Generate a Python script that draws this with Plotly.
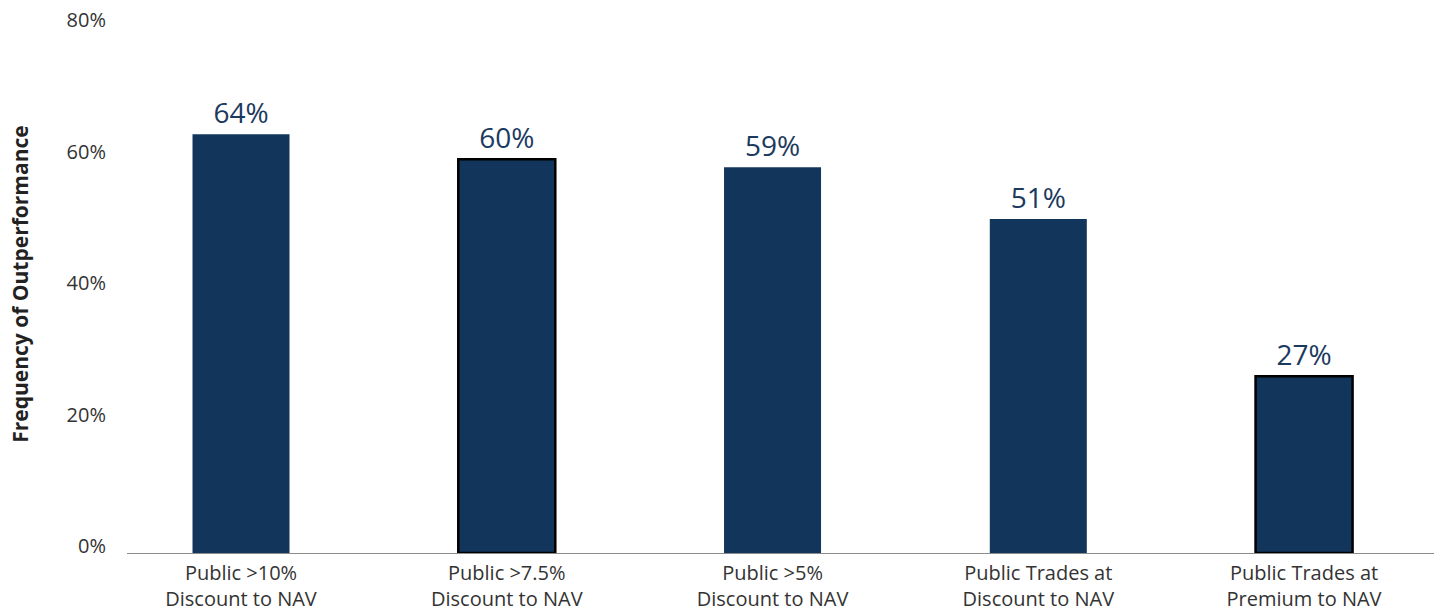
import plotly.graph_objects as go

categories = ["Public >10%<br>Discount to NAV", "Public >7.5%<br>Discount to NAV",
              "Public >5%<br>Discount to NAV", "Public Trades at<br>Discount to NAV",
              "Public Trades at<br>Premium to NAV"]
values = [63.7, 59.9, 58.7, 50.8, 26.9]
outline_widths = [0, 2.5, 0, 0, 2.5]
y_ticks = [0, 20, 40, 60, 80]
y_tick_labels = ["0%", "20%", "40%", "60%", "80%"]

BAR = "#12355b"
FONT = "Open Sans"

fig = go.Figure(go.Bar(
    x=list(range(len(categories))),
    y=values,
    width=0.365,
    marker=dict(color=BAR, line=dict(color="#000000", width=outline_widths)),
    texttemplate="%{y:.0f}%",
    textposition="outside",
    textfont=dict(family=FONT, size=28, color="#1b3a5e"),
    cliponaxis=False,
    hoverinfo="skip",
))

fig.update_layout(
    width=1434, height=605,
    margin=dict(l=119, r=0, t=19, b=60),
    plot_bgcolor="white", paper_bgcolor="white",
    showlegend=False,
    font=dict(family=FONT, color="#333333"),
    xaxis=dict(
        range=[-0.429, 4.519],
        tickmode="array", tickvals=list(range(len(categories))), ticktext=categories,
        tickfont=dict(family=FONT, size=20, color="#333333"),
        ticklabelstandoff=2, automargin=False,
        showline=True, linecolor="#8c8c8c", linewidth=1,
        ticks="", showgrid=False, zeroline=False,
    ),
    yaxis=dict(
        range=[0, 80.02],
        tickmode="array", tickvals=y_ticks, ticktext=y_tick_labels,
        tickfont=dict(family=FONT, size=20, color="#333333"),
        ticklabelshift=-7, ticklabelstandoff=20, ticklabeloverflow="allow",
        automargin=False,
        showgrid=False, zeroline=False, showline=False, ticks="",
    ),
    annotations=[dict(
        text="<b>Frequency of Outperformance</b>",
        xref="paper", yref="paper",
        x=(12 - 119) / 1315, y=0.51,
        xanchor="center", yanchor="middle",
        textangle=-90, showarrow=False,
        font=dict(family=FONT, size=21, color="#222222"),
    )],
)

fig.write_html("out.html")
